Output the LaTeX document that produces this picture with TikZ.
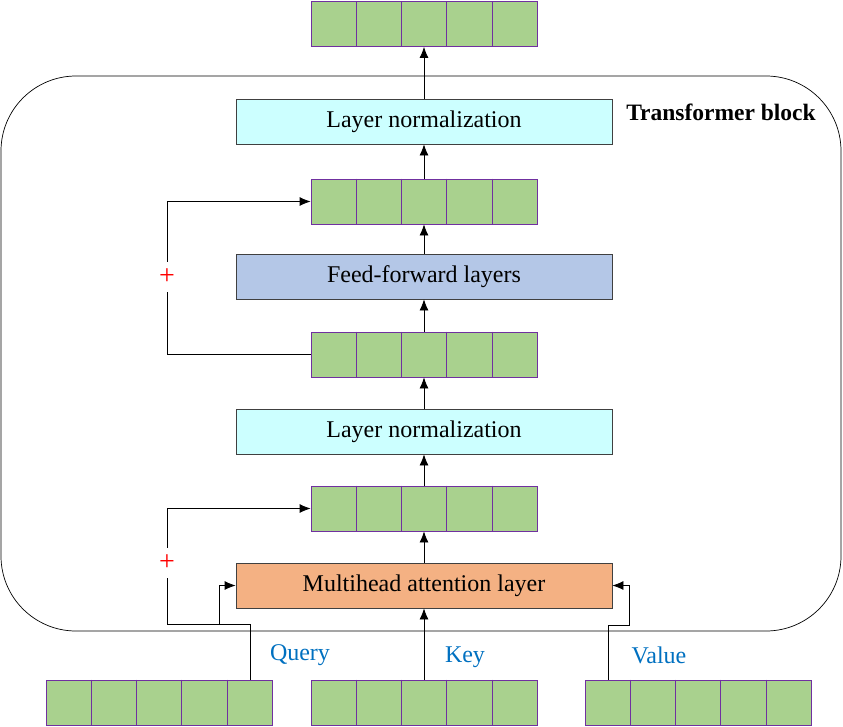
\documentclass[tikz,border=0pt]{standalone}
\usepackage{fontspec}
\setmainfont{LiberationSerif}[Extension=.ttf,UprightFont=*-Regular,BoldFont=*-Bold,ItalicFont=*-Italic,BoldItalicFont=*-BoldItalic]
\usepackage{tikz}
\usetikzlibrary{calc,positioning,arrows.meta}
\definecolor{lncyan}{HTML}{CCFFFF}
\definecolor{ffblue}{HTML}{B4C7E7}
\definecolor{mhaorange}{HTML}{F4B183}
\definecolor{cellgreen}{HTML}{A9D18E}
\definecolor{cellpurple}{HTML}{7030A0}
\definecolor{lblblue}{HTML}{0070C0}

\begin{document}
\begin{tikzpicture}[x=1pt,y=-1pt,line width=0.8pt,>={Latex[length=11pt,width=9pt]},
  box/.style={draw=black!75,minimum width=376pt,minimum height=45pt,font=\fontsize{24}{27}\selectfont},
  vecrow/.style={draw=cellpurple,fill=cellgreen,minimum width=226pt,minimum height=45pt,inner sep=0pt},
  lbl/.style={text=lblblue,font=\fontsize{24}{27}\selectfont},
  plus/.style={text=red,font=\fontsize{28}{28}\selectfont,inner sep=0pt,minimum height=30pt}]
  \useasboundingbox (0,0) rectangle (843,726);
  % transformer block outline
  \draw[line width=0.7pt,rounded corners=75pt] (1,76) rectangle (841,631);
  \node[font=\bfseries\fontsize{23.5}{27}\selectfont] (tblabel) at (721,112) {Transformer block};
  % layers and vectors
  \node[vecrow] (out) at (424,24) {};
  \node[box,fill=lncyan] (ln1) at (424,121.5) {Layer normalization};
  \node[vecrow] (c2) at (424,201.5) {};
  \node[box,fill=ffblue] (ff) at (424,276.5) {Feed-forward layers};
  \node[vecrow] (c3) at (424,354.5) {};
  \node[box,fill=lncyan] (ln2) at (424,431.5) {Layer normalization};
  \node[vecrow] (c4) at (424,508.5) {};
  \node[box,fill=mhaorange] (mha) at (424,585.5) {Multihead attention layer};
  \node[vecrow] (q) at (159,702.5) {};
  \node[vecrow] (k) at (424,702.5) {};
  \node[vecrow] (v) at (698,702.5) {};
  \foreach \r in {out,c2,c3,c4,q,k,v}
    \foreach \i in {1,...,4}
      \draw[cellpurple,line width=0.7pt] ($(\r.north west)!\i/5!(\r.north east)$) -- ($(\r.south west)!\i/5!(\r.south east)$);
  % inputs
  \node[lbl] (qlbl) at (300,655) {Query};
  \node[lbl] (klbl) at (465,657) {Key};
  \node[lbl] (vlbl) at (659,655) {Value};
  % main flow
  \path[->]
  (mha) edge (c4)
  (c4) edge (ln2)
  (ln2) edge (c3)
  (c3) edge (ff)
  (ff) edge (c2)
  (c2) edge (ln1)
  (ln1) edge (out)
  (k) edge (mha);
  % query / value inputs
  \coordinate (qtap) at (250,624);
  \coordinate (qin) at (219,624);
  \coordinate (vtap) at (608,625);
  \coordinate (vin) at (629,625);
  \draw[->] (qtap |- q.north) -- (qtap) -- (qin) |- (mha.west);
  \draw[->] (vtap |- v.north) -- (vtap) -- (vin) |- (mha.east);
  % residual connections
  \node[plus] (p1) at (167,277) {+};
  \node[plus] (p2) at (167,563) {+};
  \draw (c3.west) -| (p1.south);
  \draw[->] (p1.north) |- (c2.west);
  \draw (qtap) -| (p2.south);
  \draw[->] (p2.north) |- (c4.west);
\end{tikzpicture}
\end{document}
